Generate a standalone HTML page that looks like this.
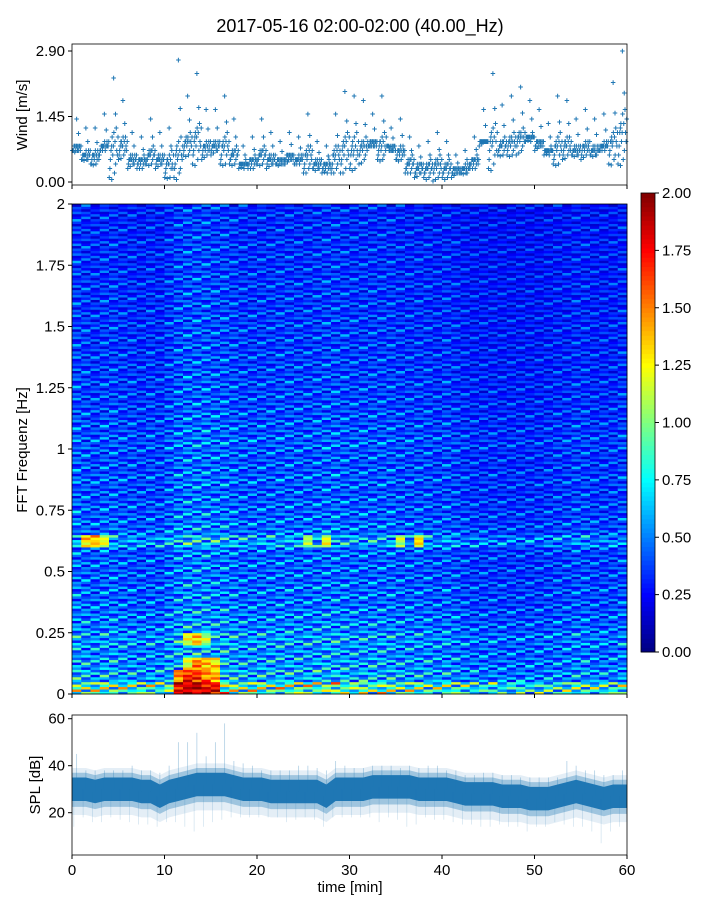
<!DOCTYPE html>
<html><head><meta charset="utf-8">
<style>
html,body{margin:0;padding:0;background:#fff;}
body{width:720px;height:900px;overflow:hidden;font-family:"Liberation Sans",sans-serif;}
</style></head>
<body>
<svg id="fig" width="720" height="900" xmlns="http://www.w3.org/2000/svg" font-family="Liberation Sans, sans-serif">
<text x="360" y="32" font-size="18" text-anchor="middle" fill="#000">2017-05-16 02:00-02:00 (40.00_Hz)</text>
<g id="wind"></g>
<g id="spec"></g>
<g id="cbar"></g>
<g id="spl"></g>
</svg>
<script>
// ---- data ----
const windMean = [0.75,0.6,0.55,0.8,0.7,0.8,0.5,0.45,0.6,0.5,0.4,0.55,0.85,0.9,0.75,0.8,0.75,0.6,0.4,0.45,0.6,0.5,0.45,0.55,0.5,0.55,0.4,0.35,0.55,0.7,0.7,0.75,0.85,0.8,0.75,0.65,0.4,0.3,0.3,0.35,0.3,0.25,0.3,0.45,0.9,0.85,0.8,0.85,0.95,1.0,0.85,0.7,0.75,0.8,0.7,0.75,0.7,0.8,0.85,1.05];
const windMax = [1.4,1.2,1.2,1.5,2.3,1.8,1.1,1.0,1.4,1.1,1.2,2.7,1.9,2.4,1.6,1.6,1.9,1.4,0.8,1.0,1.4,1.1,0.9,1.1,1.0,1.5,0.9,0.8,1.5,2.0,1.9,1.8,1.5,1.9,1.2,1.4,1.0,0.8,0.9,1.1,0.9,0.6,0.7,1.0,1.6,2.4,1.7,1.9,2.1,1.8,1.6,1.3,1.9,1.8,1.4,1.6,1.4,1.5,2.2,2.9];
const freqProfile = [0.95,0.62,0.58,0.55,0.58,0.52,0.5,0.47,0.47,0.45,0.45,0.45,0.6,0.47,0.45,0.44,0.42,0.44,0.42,0.42,0.44,0.42,0.41,0.4,0.39,0.39,0.38,0.38,0.37,0.37,0.37,0.36,0.36,0.36,0.35,0.35,0.35,0.34,0.34,0.33];
const timeProfile = [1.05,1.0,0.95,1.0,1.0,0.95,0.95,0.9,0.95,0.9,1.0,1.1,1.15,1.15,1.15,1.1,1.1,1.05,1.0,1.0,1.0,1.0,1.02,1.02,1.0,1.0,1.02,1.05,1.05,1.02,1.0,1.0,1.0,1.0,1.0,0.95,0.95,0.95,0.95,0.9,0.95,0.9,0.85,0.82,0.82,0.82,0.8,0.8,0.8,0.8,0.8,0.82,0.85,0.85,0.9,0.9,0.85,0.85,0.85,0.9];
const hotTimes = [11,12,13,14,15,11,12,13,14,15,12,13,14,15,12,13,14,1,2,3,25,27,35,37];
const hotFreqs = [0,0,0,0,0,1,1,1,1,1,2,2,2,2,4,4,4,12,12,12,12,12,12,12];
const hotVals  = [1.8,1.9,1.9,1.8,1.8,1.5,1.7,1.7,1.5,1.4,1.2,1.5,1.4,1.3,1.2,1.4,1.1,1.3,1.4,1.2,1.1,1.2,1.1,1.3];
const splMean = [30,30,29,30,30,30,30,29,29,27,29,30,31,32,32,32,32,31,30,30,30,29,29,29,29,29,29,27,30,30,30,30,31,31,31,31,31,30,30,30,30,29,28,28,28,28,27,27,27,26,26,26,27,28,29,28,27,26,27,27];
const splMax = [45,38,38,38,38,38,40,38,38,37,40,50,50,54,44,50,58,42,41,40,38,38,38,38,40,40,39,38,42,40,39,39,40,40,40,39,40,39,40,40,38,38,36,36,37,37,36,36,35,35,35,35,35,42,40,38,38,36,36,38];
const splMin = [14,18,16,16,18,17,16,15,15,14,16,16,14,12,14,16,17,18,18,18,18,18,18,16,17,18,17,14,18,18,18,18,18,16,18,17,14,15,18,17,17,16,15,15,14,14,15,14,14,12,14,14,16,15,14,14,12,7,12,14];
const cbTicks = ["0.00","0.25","0.50","0.75","1.00","1.25","1.50","1.75","2.00"];
const freqTicks = ["0","0.25","0.5","0.75","1","1.25","1.5","1.75","2"];
const timeTicks = [0,10,20,30,40,50,60];
const splTicks = [20,40,60];
const windTicks = ["0.00","1.45","2.90"];

const NS="http://www.w3.org/2000/svg";
function mk(parent,tag,attrs){const e=document.createElementNS(NS,tag);for(const k in attrs)e.setAttribute(k,attrs[k]);parent.appendChild(e);return e;}
function jet(v){v=Math.max(0,Math.min(1,v));
 const r=Math.max(0,Math.min(1,Math.min(4*v-1.5,-4*v+4.5)));
 const g=Math.max(0,Math.min(1,Math.min(4*v-0.5,-4*v+3.5)));
 const b=Math.max(0,Math.min(1,Math.min(4*v+0.5,-4*v+2.5)));
 return `rgb(${Math.round(r*255)},${Math.round(g*255)},${Math.round(b*255)})`;}

const X0=72,X1=627;
const xT=t=>X0+(t/60)*(X1-X0);

// ---- wind panel ----
const W=document.getElementById('wind');
const wy=v=>182-(v/2.9)*131;
const offs=[-1,-0.6,-0.3,0,0.2,0.4,-0.15,0.1,0.6,-0.8,0.3,-0.45,0.8,0,-0.2,0.5];
function windPt(t,v){
 const p=mk(W,'text',{x:xT(t),y:wy(v)+3,'font-size':9,'font-weight':'bold','text-anchor':'middle',fill:'#1f77b4'});
 
 
 p.textContent='+';
}
for(let m=0;m<windMean.length;m++){
 const lo=Math.max(0.05,2*windMean[m]-windMax[m]*0.6);
 const n=offs.length;
 for(let j=0;j<n;j++){
  const t=m+j/n+0.03;
  let v=windMean[m]+(windMean[m]-lo)*offs[j];
  v=Math.max(0.02,Math.round(v*10)/10);
  windPt(t,v);
 }
 windPt(m+0.5,windMax[m]);
 windPt(m+0.7,(windMax[m]+windMean[m])/2);
 windPt(m+0.3,Math.max(0,lo));
}
mk(W,'rect',{x:X0,y:44,width:X1-X0,height:141,fill:'none',stroke:'#000','stroke-width':0.8});
windTicks.forEach(s=>{const y=wy(parseFloat(s));
 mk(W,'line',{x1:X0-4,x2:X0,y1:y,y2:y,stroke:'#000'});
 const t=mk(W,'text',{x:X0-7,y:y+5,'font-size':15,'text-anchor':'end'});
 
 
 t.textContent=s;});
timeTicks.forEach(v=>mk(W,'line',{x1:xT(v),x2:xT(v),y1:185,y2:189,stroke:'#000'}));
const wl=mk(W,'text',{x:27,y:115,'font-size':15,'text-anchor':'middle',transform:'rotate(-90 27 115)'});


wl.textContent='Wind [m/s]';

// ---- spectrogram ----
const S=document.getElementById('spec');
const SY0=694,SY1=204;
const fy=f=>SY0-(f/2)*(SY0-SY1);
const nF=freqProfile.length, nT=timeProfile.length;
const stripe=[0.6,1.5,0.85,1.2,0.5,1.0,1.65,0.75,0.55,1.3,0.9,1.15,0.45,1.4,0.7,1.05,0.8];
for(let c=0;c<nT;c++){
 for(let r=0;r<nF;r++){
  let base=freqProfile[r]*timeProfile[c];
  let hot=false;
  for(let k=0;k<hotTimes.length;k++) if(hotTimes[k]===c&&hotFreqs[k]===r){base=hotVals[k];hot=true;}
  const sub=5;
  for(let s=0;s<sub;s++){
   const f=stripe[(r*sub+s+c*11)%stripe.length];
   const v=hot?base*(0.75+0.25*f):base*f;
   const y0=fy((r+(s+1)/sub)*2/nF), y1=fy((r+s/sub)*2/nF);
   const cell=mk(S,'rect',{x:xT(c),y:y0,width:xT(c+1)-xT(c)+0.4,height:y1-y0+0.4,fill:jet(v/2)});
   
   
  }
 }
}
mk(S,'rect',{x:X0,y:SY1,width:X1-X0,height:SY0-SY1,fill:'none',stroke:'#000','stroke-width':0.8});
freqTicks.forEach((s,i)=>{const y=fy(i*0.25);
 mk(S,'line',{x1:X0-4,x2:X0,y1:y,y2:y,stroke:'#000'});
 const t=mk(S,'text',{x:X0-7,y:y+5,'font-size':15,'text-anchor':'end'});
 
 
 t.textContent=s;});
timeTicks.forEach(v=>mk(S,'line',{x1:xT(v),x2:xT(v),y1:SY0,y2:SY0+4,stroke:'#000'}));
const sl=mk(S,'text',{x:27,y:450,'font-size':15,'text-anchor':'middle',transform:'rotate(-90 27 450)'});


sl.textContent='FFT Frequenz [Hz]';

// ---- colorbar ----
const C=document.getElementById('cbar');
const CY0=652,CY1=193;
for(let i=0;i<100;i++){
 const y=CY0-(i+1)/100*(CY0-CY1);
 const r=mk(C,'rect',{x:641,y:y,width:14,height:(CY0-CY1)/100+0.5,fill:jet((i+0.5)/100)});
 
 
}
mk(C,'rect',{x:641,y:CY1,width:14,height:CY0-CY1,fill:'none',stroke:'#000','stroke-width':0.8});
cbTicks.forEach(s=>{const y=CY0-parseFloat(s)/2*(CY0-CY1);
 mk(C,'line',{x1:655,x2:659,y1:y,y2:y,stroke:'#000'});
 const t=mk(C,'text',{x:662,y:y+5,'font-size':15});
 
 
 t.textContent=s;});

// ---- SPL panel ----
const P=document.getElementById('spl');
const py=v=>812.7-(v-20)*2.35;
function band(lo,hi,fill,op,name){
 let d='M'+xT(0)+','+py(hi(0));
 for(let m=0;m<splMean.length;m++){d+=' L'+xT(m+0.5)+','+py(hi(m));}
 d+=' L'+xT(60)+','+py(hi(splMean.length-1));
 d+=' L'+xT(60)+','+py(lo(splMean.length-1));
 for(let m=splMean.length-1;m>=0;m--){d+=' L'+xT(m+0.5)+','+py(lo(m));}
 d+=' L'+xT(0)+','+py(lo(0))+' Z';
 const p=mk(P,'path',{d:d,fill:fill,'fill-opacity':op});
 
 
}
band(m=>splMean[m]-11,m=>splMean[m]+9,'#1f77b4',0.12,'spl-extreme-band');
band(m=>splMean[m]-7.5,m=>splMean[m]+7,'#1f77b4',0.35,'spl-outer-band');
band(m=>splMean[m]-5,m=>splMean[m]+5,'#1f77b4',1,'spl-core-band');
for(let m=0;m<splMean.length;m++){
 const sp=mk(P,'line',{x1:xT(m+0.5),x2:xT(m+0.5),y1:py(splMax[m]),y2:py(splMean[m]),stroke:'#1f77b4','stroke-width':0.8,'stroke-opacity':0.35});
 
 
 const sd=mk(P,'line',{x1:xT(m+0.2),x2:xT(m+0.2),y1:py(splMean[m]),y2:py(splMin[m]),stroke:'#1f77b4','stroke-width':0.6,'stroke-opacity':0.25});
 
 
}
mk(P,'rect',{x:X0,y:715,width:X1-X0,height:140,fill:'none',stroke:'#000','stroke-width':0.8});
splTicks.forEach(v=>{const y=py(v);
 mk(P,'line',{x1:X0-4,x2:X0,y1:y,y2:y,stroke:'#000'});
 const t=mk(P,'text',{x:X0-7,y:y+5,'font-size':15,'text-anchor':'end'});
 
 
 t.textContent=v;});
timeTicks.forEach(v=>{
 mk(P,'line',{x1:xT(v),x2:xT(v),y1:855,y2:859,stroke:'#000'});
 const t=mk(P,'text',{x:xT(v),y:875,'font-size':15,'text-anchor':'middle'});
 
 
 t.textContent=v;});
const pl=mk(P,'text',{x:40,y:785,'font-size':15,'text-anchor':'middle',transform:'rotate(-90 40 785)'});


pl.textContent='SPL [dB]';
const xl=mk(P,'text',{x:350,y:892,'font-size':15,'text-anchor':'middle'});


xl.textContent='time [min]';
</script>
</body></html>
